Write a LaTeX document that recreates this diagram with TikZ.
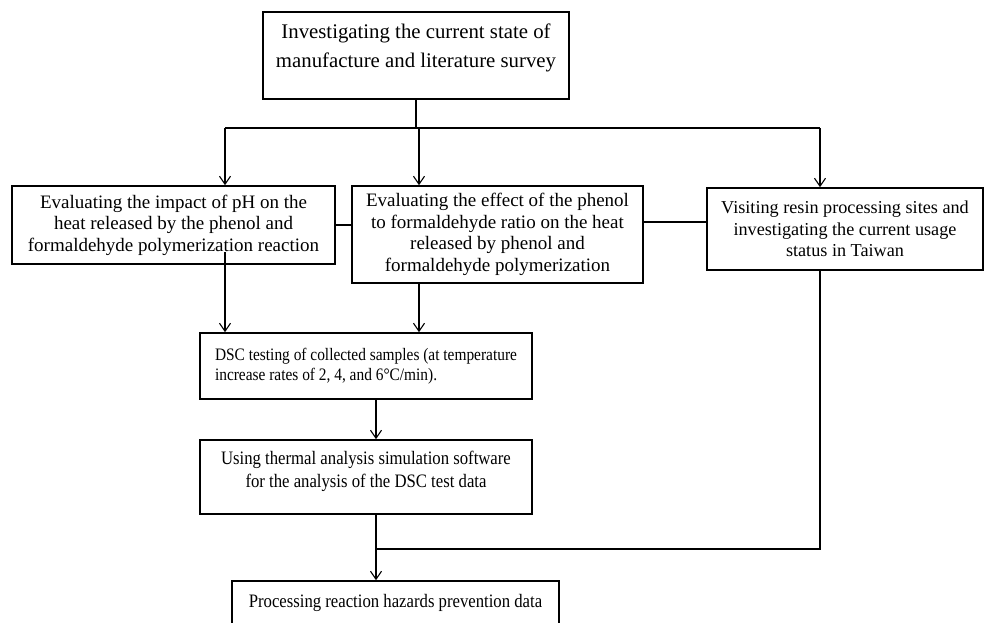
\documentclass[tikz,border=0pt]{standalone}
\usepackage{fontspec}
\setmainfont{Liberation Serif}
\newfontfamily\narrowfont[FakeStretch=0.88]{Liberation Serif}
\usetikzlibrary{arrows.meta}

\begin{document}
\begin{tikzpicture}[x=1pt,y=-1pt]

  \tikzstyle{box}=[shape=rectangle,draw,line width=1.6pt,align=center,inner sep=0pt,font=\fontsize{19}{21.5}\selectfont]

  \tikzstyle{narrowbox}=[box,font=\narrowfont\fontsize{19}{21.5}\selectfont]

  \tikzstyle{lineDecorate}=[draw,line width=1.1pt,-{Straight Barb[length=8pt,width=11pt]}]

  \tikzstyle{lineJoin}=[draw,line width=1.1pt]

\useasboundingbox (0,0) rectangle (984,622);

%% boxes

\node (survey)[box, minimum width=306pt, minimum height=87pt, text depth=20pt, font=\fontsize{20.8}{29}\selectfont] at (416,55.5) {Investigating the current state of\\manufacture and literature survey};

\node (ph)[box, minimum width=323pt, minimum height=78pt] at (173.5,225) {Evaluating the impact of pH on the\\heat released by the phenol and\\formaldehyde polymerization reaction};

\node (ratio)[box, minimum width=291pt, minimum height=97pt] at (497.5,234.5) {Evaluating the effect of the phenol\\to formaldehyde ratio on the heat\\released by phenol and\\formaldehyde polymerization};

\node (visit)[box, minimum width=276pt, minimum height=82pt, font=\fontsize{18.2}{21.5}\selectfont] at (845,229) {Visiting resin processing sites and\\investigating the current usage\\status in Taiwan};

\node (dsc)[narrowbox, minimum width=332pt, minimum height=66pt, align=left, font=\narrowfont\fontsize{17.5}{20}\selectfont] at (366,366) {DSC testing of collected samples (at temperature\\increase rates of 2, 4, and 6\textdegree C/min).};

\node (sim)[narrowbox, minimum width=332pt, minimum height=74pt, text depth=16pt, font=\narrowfont\fontsize{19}{23}\selectfont] at (366,477) {Using thermal analysis simulation software\\for the analysis of the DSC test data};

\node (data)[narrowbox, minimum width=327pt, minimum height=44pt] at (395.5,603) {Processing reaction hazards prevention data};

%% junctions

\coordinate (jL) at (225,128);
\coordinate (jM) at (419,128);
\coordinate (jR) at (820,128);
\coordinate (phOut) at (225,252);
\coordinate (jC) at (376,549);

%% edges

\path[lineJoin] (survey.south) -- (survey.south |- jM);
\path[lineJoin] (jL) -- (jR);

\path[lineDecorate] (jL) -- (jL |- ph.north);
\path[lineDecorate] (jM) -- (jM |- ratio.north);
\path[lineDecorate] (jR) -- (jR |- visit.north);

\path[lineJoin] (ph.east) -- (ratio.west |- ph.east);
\path[lineJoin] (ratio.east |- 0,222) -- (visit.west |- 0,222);

\path[lineDecorate] (phOut) -- (phOut |- dsc.north);
\path[lineDecorate] (jM |- ratio.south) -- (jM |- dsc.north);
\path[lineDecorate] (jC |- dsc.south) -- (jC |- sim.north);
\path[lineDecorate] (jC |- sim.south) -- (jC |- data.north);

\path[lineJoin] (jR |- visit.south) |- (jC);

\end{tikzpicture}
\end{document}
